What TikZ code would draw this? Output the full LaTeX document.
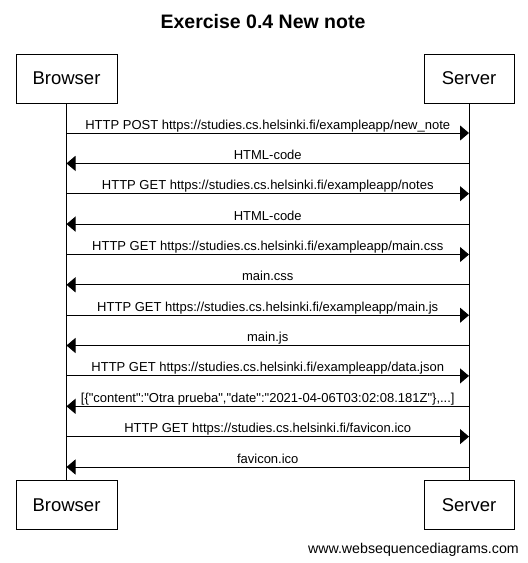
\documentclass[tikz,border=0pt]{standalone}
\usepackage{fontspec}
\setmainfont{Liberation Sans}[Ligatures=TeXOff]
\usepackage{tikz}
\usetikzlibrary{arrows.meta, calc}

\tikzset{
  actor/.style={draw, line width=1pt, minimum height=49pt, inner sep=0pt, font=\fontsize{18.5}{20}\selectfont},
  lifeline/.style={line width=1pt},
  msg/.style={line width=1pt, -{Triangle[length=9pt,width=15pt]}},
  lbl/.style={anchor=base, inner sep=0pt, yshift=4pt, font=\fontsize{13}{15}\selectfont},
}

\begin{document}
\begin{tikzpicture}[x=1pt, y=-1pt]
      \useasboundingbox (0,0) rectangle (528,563);
      \node[anchor=base, inner sep=0pt, font=\bfseries\fontsize{19.5}{21}\selectfont] (title) at (263,28) {Exercise 0.4 New note};

      \node[actor, minimum width=101pt] (browser) at (66.5,78.5) {Browser};
      \node[actor, minimum width=90pt] (server) at (469,78.5) {Server};
      \node[actor, minimum width=101pt] (browserend) at (66.5,505) {Browser};
      \node[actor, minimum width=90pt] (serverend) at (469,505) {Server};

      \draw [lifeline] (browser) -- (browserend);
      \draw [lifeline] (server) -- (serverend);

      \draw [msg] (browser |- 0,133) -- node[lbl] {HTTP POST https://studies.cs.helsinki.fi/exampleapp/new\_note} (server |- 0,133);
      \draw [msg] (server |- 0,163.4) -- node[lbl] {HTML-code} (browser |- 0,163.4);
      \draw [msg] (browser |- 0,193.7) -- node[lbl] {HTTP GET https://studies.cs.helsinki.fi/exampleapp/notes} (server |- 0,193.7);
      \draw [msg] (server |- 0,224.1) -- node[lbl] {HTML-code} (browser |- 0,224.1);
      \draw [msg] (browser |- 0,254.5) -- node[lbl] {HTTP GET https://studies.cs.helsinki.fi/exampleapp/main.css} (server |- 0,254.5);
      \draw [msg] (server |- 0,284.8) -- node[lbl] {main.css} (browser |- 0,284.8);
      \draw [msg] (browser |- 0,315.2) -- node[lbl] {HTTP GET https://studies.cs.helsinki.fi/exampleapp/main.js} (server |- 0,315.2);
      \draw [msg] (server |- 0,345.5) -- node[lbl] {main.js} (browser |- 0,345.5);
      \draw [msg] (browser |- 0,375.9) -- node[lbl] {HTTP GET https://studies.cs.helsinki.fi/exampleapp/data.json} (server |- 0,375.9);
      \draw [msg] (server |- 0,406.3) -- node[lbl] {[\{"content":"Otra prueba","date":"2021-04-06T03:02:08.181Z"\},...]} (browser |- 0,406.3);
      \draw [msg] (browser |- 0,436.6) -- node[lbl] {HTTP GET https://studies.cs.helsinki.fi/favicon.ico} (server |- 0,436.6);
      \draw [msg] (server |- 0,467) -- node[lbl] {favicon.ico} (browser |- 0,467);

      \node[anchor=base east, inner sep=0pt, font=\fontsize{14.2}{16}\selectfont] (credit) at (519,553) {www.websequencediagrams.com};
    \end{tikzpicture}
\end{document}
